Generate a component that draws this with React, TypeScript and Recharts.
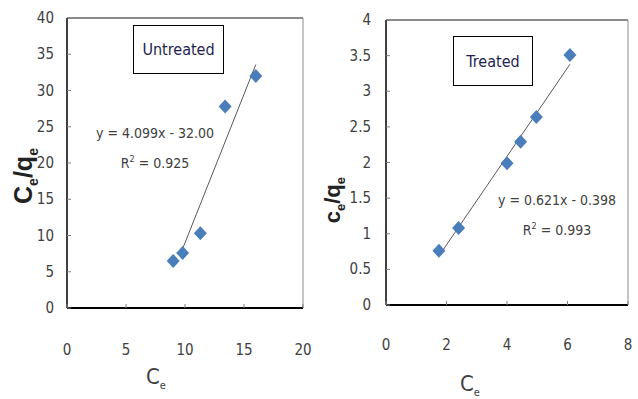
import React from "react";
import {
  ScatterChart,
  Scatter,
  XAxis,
  YAxis,
  ReferenceLine,
} from "recharts";

// untreated sample
const untreatedCe = [9.0, 9.8, 11.3, 13.4, 16.0];
const untreatedRatio = [6.5, 7.6, 10.3, 27.8, 32.0];
const untreatedSlope = 4.099;
const untreatedIntercept = -32.0;
const untreatedFitRange = [9.7, 16.0];
const untreatedXTicks = [0, 5, 10, 15, 20];
const untreatedYTicks = [0, 5, 10, 15, 20, 25, 30, 35, 40];

// treated sample
const treatedCe = [1.75, 2.4, 4.0, 4.45, 4.97, 6.08];
const treatedRatio = [0.76, 1.08, 1.99, 2.29, 2.64, 3.51];
const treatedSlope = 0.621;
const treatedIntercept = -0.398;
const treatedFitRange = [1.75, 6.08];
const treatedXTicks = [0, 2, 4, 6, 8];
const treatedYTicks = [0, 0.5, 1, 1.5, 2, 2.5, 3, 3.5, 4];

const NARROW = '"Liberation Sans Narrow", "DejaVu Sans Condensed", "Liberation Sans", sans-serif';
const MARKER = "#4a7ebb";
const TICK_COLOR = "#404040";

const toPoints = (xs: number[], ys: number[]) => xs.map((x, i) => ({ x, y: ys[i] }));
const fitPoints = (range: number[], m: number, b: number) =>
  range.map((x) => ({ x, y: m * x + b }));

function Diamond(props: any) {
  const { cx, cy } = props;
  if (cx == null || cy == null) return null;
  return (
    <polygon
      points={`${cx},${cy - 7} ${cx + 6.5},${cy} ${cx},${cy + 7} ${cx - 6.5},${cy}`}
      fill={MARKER}
    />
  );
}

function XTick(props: any) {
  const { x, y, payload, gap } = props;
  return (
    <g>
      <line x1={x} x2={x} y1={y} y2={y - 4} stroke="#808080" />
      <text
        x={x}
        y={y + gap}
        textAnchor="middle"
        dominantBaseline="central"
        fontFamily={NARROW}
        fontSize={15}
        fill={TICK_COLOR}
      >
        {payload.value}
      </text>
    </g>
  );
}

function YTick(props: any) {
  const { x, y, payload, gap } = props;
  return (
    <g>
      <line x1={x} x2={x + 4} y1={y} y2={y} stroke="#808080" />
      <text
        x={x - gap}
        y={y}
        textAnchor="end"
        dominantBaseline="central"
        fontFamily={NARROW}
        fontSize={15}
        fill={TICK_COLOR}
      >
        {payload.value}
      </text>
    </g>
  );
}

function Panel(props: {
  left: number;
  points: { x: number; y: number }[];
  fit: { x: number; y: number }[];
  xMax: number;
  yMax: number;
  xTicks: number[];
  yTicks: number[];
  margin: { top: number; right: number; bottom: number; left: number };
  yWidth: number;
  xGap: number;
  yGap: number;
}) {
  return (
    <div style={{ position: "absolute", left: props.left, top: 0 }}>
      <ScatterChart width={320} height={399} margin={props.margin}>
        <XAxis
          type="number"
          dataKey="x"
          domain={[0, props.xMax]}
          ticks={props.xTicks}
          height={60}
          tickSize={0}
          tickMargin={0}
          axisLine={{ stroke: "#000", strokeWidth: 2 }}
          tick={<XTick gap={props.xGap} />}
          interval={0}
        />
        <YAxis
          type="number"
          dataKey="y"
          domain={[0, props.yMax]}
          ticks={props.yTicks}
          width={props.yWidth}
          tickSize={0}
          tickMargin={0}
          axisLine={{ stroke: "#000", strokeWidth: 1.5 }}
          tick={<YTick gap={props.yGap} />}
          interval={0}
        />
        <ReferenceLine y={props.yMax} stroke="#8c8c8c" strokeWidth={2} />
        <ReferenceLine x={props.xMax} stroke="#8c8c8c" strokeWidth={1} />
        <Scatter
          data={props.fit}
          line={{ stroke: "#595959", strokeWidth: 1 }}
          shape={() => <g />}
          isAnimationActive={false}
        />
        <Scatter data={props.points} shape={<Diamond />} isAnimationActive={false} />
      </ScatterChart>
    </div>
  );
}

const abs = (l: number, t: number, extra: React.CSSProperties = {}): React.CSSProperties => ({
  position: "absolute",
  left: l,
  top: t,
  ...extra,
});

const supStyle: React.CSSProperties = { fontSize: 9, verticalAlign: "top", lineHeight: "22px" };

export default function App() {
  return (
    <div
      style={{
        position: "fixed",
        left: 0,
        top: 0,
        width: 638,
        height: 399,
        background: "#fff",
        overflow: "hidden",
      }}
    >
      <Panel
        left={0}
        points={toPoints(untreatedCe, untreatedRatio)}
        fit={fitPoints(untreatedFitRange, untreatedSlope, untreatedIntercept)}
        xMax={20}
        yMax={40}
        xTicks={untreatedXTicks}
        yTicks={untreatedYTicks}
        margin={{ top: 18, right: 17, bottom: 31, left: 0 }}
        yWidth={67}
        xGap={42}
        yGap={13}
      />
      <Panel
        left={318}
        points={toPoints(treatedCe, treatedRatio)}
        fit={fitPoints(treatedFitRange, treatedSlope, treatedIntercept)}
        xMax={8}
        yMax={4}
        xTicks={treatedXTicks}
        yTicks={treatedYTicks}
        margin={{ top: 20, right: 10, bottom: 34, left: 0 }}
        yWidth={68}
        xGap={40}
        yGap={15}
      />

      {/* legend-like boxes */}
      <div
        style={abs(133, 25, {
          width: 91,
          height: 49,
          boxSizing: "border-box",
          border: "1.5px solid #000",
          background: "#fff",
          display: "flex",
          alignItems: "center",
          justifyContent: "center",
          fontFamily: NARROW,
          fontSize: 16,
          color: "#1f1f4f",
        })}
      >
        Untreated
      </div>
      <div
        style={abs(453, 36, {
          width: 80,
          height: 50,
          boxSizing: "border-box",
          border: "1.5px solid #000",
          background: "#fff",
          display: "flex",
          alignItems: "center",
          justifyContent: "center",
          fontFamily: NARROW,
          fontSize: 16,
          color: "#1f1f4f",
        })}
      >
        Treated
      </div>

      {/* regression annotations */}
      <div style={abs(85, 118, { width: 140, textAlign: "center", fontFamily: NARROW, fontSize: 14, color: TICK_COLOR, lineHeight: "30px" })}>
        <div>y = 4.099x - 32.00</div>
        <div>
          R<sup style={supStyle}>2</sup> = 0.925
        </div>
      </div>
      <div style={abs(487, 185, { width: 140, textAlign: "center", fontFamily: NARROW, fontSize: 14, color: TICK_COLOR, lineHeight: "30px" })}>
        <div>y = 0.621x - 0.398</div>
        <div>
          R<sup style={supStyle}>2</sup> = 0.993
        </div>
      </div>

      {/* axis titles */}
      <div
        style={abs(-27, 157, {
          width: 110,
          textAlign: "center",
          transform: "rotate(-90deg)",
          fontFamily: '"Liberation Sans", Arial, sans-serif',
          fontWeight: "bold",
          fontSize: 25,
          color: "#222",
          lineHeight: "28px",
        })}
      >
        C<sub style={{ fontSize: 14 }}>e</sub>/q<sub style={{ fontSize: 14 }}>e</sub>
      </div>
      <div
        style={abs(282, 182, {
          width: 110,
          textAlign: "center",
          transform: "rotate(-90deg)",
          fontFamily: '"Liberation Sans", Arial, sans-serif',
          fontWeight: "bold",
          fontSize: 22,
          color: "#222",
          lineHeight: "28px",
        })}
      >
        c<sub style={{ fontSize: 13 }}>e</sub>/q<sub style={{ fontSize: 13 }}>e</sub>
      </div>
      <div style={abs(146, 364, { fontFamily: NARROW, fontSize: 22, color: TICK_COLOR })}>
        C<sub style={{ fontSize: 11 }}>e</sub>
      </div>
      <div style={abs(460, 371, { fontFamily: NARROW, fontSize: 22, color: TICK_COLOR })}>
        C<sub style={{ fontSize: 11 }}>e</sub>
      </div>
    </div>
  );
}
